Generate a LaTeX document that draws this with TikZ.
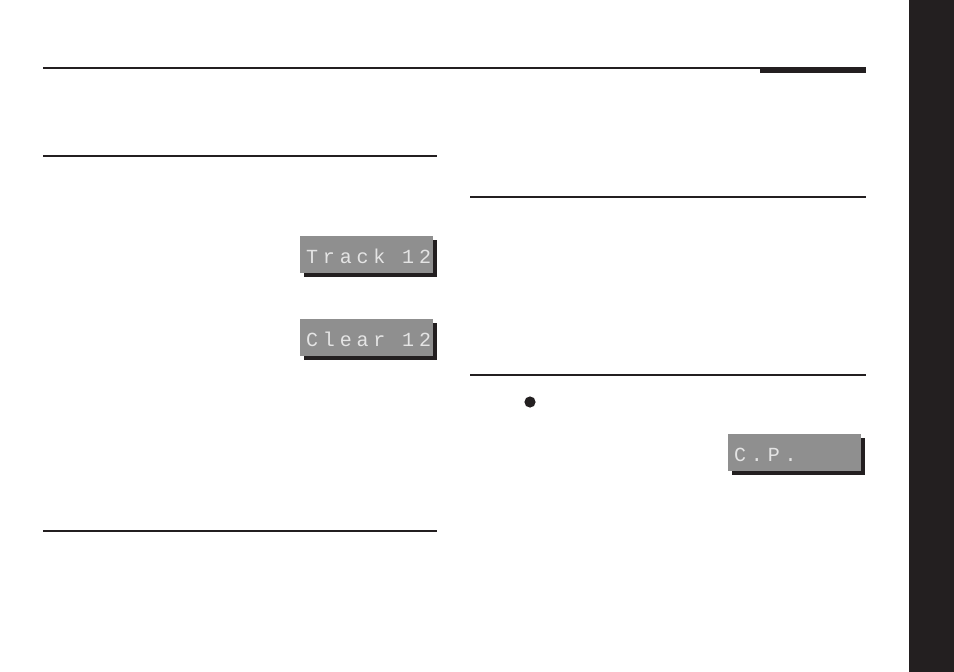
\documentclass[tikz,border=0pt]{standalone}
\usepackage{fontspec}
\usepackage{tikz}
\usetikzlibrary{positioning}
\newfontfamily\lcdfont[LetterSpace=24]{Liberation Mono}
\definecolor{inkblack}{HTML}{231F20}
\definecolor{lcdgray}{HTML}{8F8F8F}
\definecolor{lcdtext}{HTML}{E4E4E4}

\begin{document}
\begin{tikzpicture}[x=1pt, y=-1pt,
			lcdbox/.style={fill=lcdgray, minimum width=133pt, minimum height=37pt, inner sep=0pt, anchor=north west},
			lcdshadow/.style={fill=inkblack, minimum width=133pt, minimum height=37pt, inner sep=0pt, anchor=north west},
			lcdlabel/.style={text=lcdtext, font=\lcdfont\fontsize{20}{20}\selectfont, anchor=west, inner sep=0pt},
			rule/.style={inkblack, line width=1.2pt},
		]
		
			\useasboundingbox (0,0) rectangle (954,672);
		
			%Side tab
			\fill[inkblack] (909,0) rectangle (954,672);
		
			%Lines
			\draw[rule]	(43,68) -- (866,68);
			\fill[inkblack]	(760,67) rectangle (866,73);
			\draw[rule]	(43,156) -- (437,156);
			\draw[rule]	(43,531) -- (437,531);
			\draw[rule]	(470,197) -- (866,197);
			\draw[rule]	(470,375) -- (866,375);
		
			%Nodes
			\node[lcdshadow]	(tracks)	at (304,240)	{};
			\node[lcdbox]		(track)	at (300,236)	{};
			\node[lcdlabel]		(tracktxt)	at ([xshift=6pt, yshift=-2pt]track.west)	{Track 12};
		
			\node[lcdshadow]	(clears)	at (304,323)	{};
			\node[lcdbox]		(clear)	at (300,319)	{};
			\node[lcdlabel]		(cleartxt)	at ([xshift=6pt, yshift=-2pt]clear.west)	{Clear 12};
		
			\node[lcdshadow]	(cps)	at (732,438)	{};
			\node[lcdbox]		(cp)	at (728,434)	{};
			\node[lcdlabel]		(cptxt)	at ([xshift=6pt, yshift=-2pt]cp.west)	{C.P.};
		
			\fill[inkblack]	(530,402) circle (5.6pt);
		
		\end{tikzpicture}
\end{document}
